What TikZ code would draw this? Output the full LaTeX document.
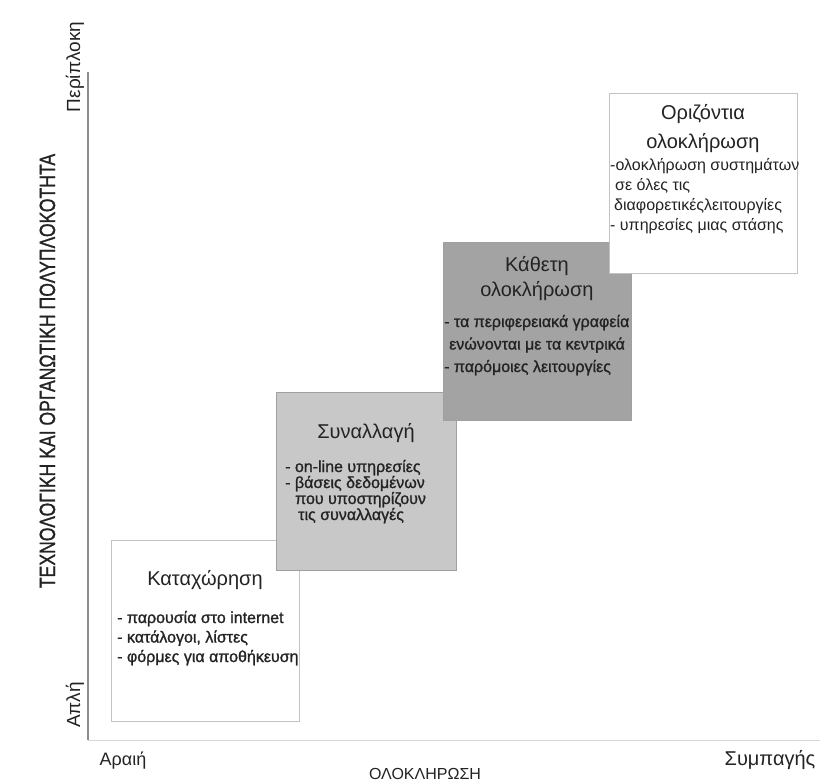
\documentclass[tikz,border=0pt]{standalone}
\usepackage{fontspec}
\setmainfont{Liberation Sans}
\newfontfamily\heavyfont{Liberation Sans}[FakeBold=1.2]
\usepackage{graphicx}
\usepackage{xcolor}
\definecolor{axisgray}{RGB}{140,140,140}
\definecolor{baselinegray}{RGB}{215,215,215}
\definecolor{boxedge}{RGB}{160,160,160}
\definecolor{lightedge}{RGB}{195,195,195}
\definecolor{transactfill}{RGB}{200,200,200}
\definecolor{verticalfill}{RGB}{163,163,163}
\definecolor{textdark}{RGB}{35,35,35}
\tikzset{
    stagebox/.style={
        draw=boxedge,
        rectangle,
        minimum width=188pt,
        minimum height=180pt,
        inner sep=0pt,
        line width=0.8pt
    },
    stagetitle/.style={
        anchor=base,
        inner sep=0pt,
        text=textdark,
        font=\fontsize{20}{24}\selectfont
    },
    stageitem/.style={
        anchor=base west,
        inner sep=0pt,
        text=textdark,
        font=\fontsize{16}{19}\selectfont
    },
    heavyitem/.style={
        stageitem,
        font=\heavyfont\fontsize{16}{19}\selectfont
    },
    axistext/.style={
        anchor=base,
        inner sep=0pt,
        text=textdark
    }
}

\begin{document}
\begin{tikzpicture}[x=1pt,y=-1pt]

\useasboundingbox (0,0) rectangle (824,783);

% ---------------------------------------------------------
% Axes
% ---------------------------------------------------------
\coordinate (origin) at (88,740);
\coordinate (ytop) at (88,72);
\coordinate (xend) at (820,740);
\draw[baselinegray, line width=1pt] (origin) -- (xend);
\draw[axisgray, line width=2pt] (ytop) -- (origin);

\node[axistext, rotate=90, font=\heavyfont\fontsize{22}{26}\selectfont] (complexity)
    at (55,371) {\scalebox{0.8}[1]{ΤΕΧΝΟΛΟΓΙΚΗ ΚΑΙ ΟΡΓΑΝΩΤΙΚΗ ΠΟΛΥΠΛΟΚΟΤΗΤΑ}};
\node[axistext, rotate=90, font=\fontsize{19}{22}\selectfont] (complex)
    at (80,67) {Περίπλοκη};
\node[axistext, rotate=90, font=\fontsize{19}{22}\selectfont] (simple)
    at (80,705) {Απλή};

\node[axistext, font=\fontsize{18}{22}\selectfont] (sparse) at (123,765) {Αραιή};
\node[axistext, font=\fontsize{20}{24}\selectfont] (dense) at (770,765) {Συμπαγής};
\node[axistext, font=\fontsize{16}{20}\selectfont] (integration) at (425,779) {ΟΛΟΚΛΗΡΩΣΗ};

% ---------------------------------------------------------
% Stage 1: registration
% ---------------------------------------------------------
\node[stagebox, draw=lightedge, fill=white, minimum height=181pt] (registration)
    at (205.5,630.5) {};
\node[stagetitle] (registration-title) at (205,585) {Καταχώρηση};
\foreach \dx/\txt [count=\i from 0] in
    {0/{- παρουσία στο internet},
     0/{- κατάλογοι, λίστες},
     0/{- φόρμες για αποθήκευση}}
{
    \node[heavyitem] (registration-item-\i) at (117+\dx,623+\i*19.5) {\txt};
}

% ---------------------------------------------------------
% Stage 2: transaction
% ---------------------------------------------------------
\node[stagebox, fill=transactfill, minimum width=180pt, minimum height=178pt] (transaction)
    at (366,481) {};
\node[stagetitle] (transaction-title) at (366,438) {Συναλλαγή};
\foreach \dx/\txt [count=\i from 0] in
    {0/{- on-line υπηρεσίες},
     0/{- βάσεις δεδομένων},
     10/{που υποστηρίζουν},
     13/{τις συναλλαγές}}
{
    \node[heavyitem] (transaction-item-\i) at (285+\dx,472+\i*16) {\txt};
}

% ---------------------------------------------------------
% Stage 3: vertical integration
% ---------------------------------------------------------
\node[stagebox, fill=verticalfill, minimum height=178pt] (vertical)
    at (537,331) {};
\node[stagetitle] (vertical-title-a) at (537,272) {Κάθετη};
\node[stagetitle] (vertical-title-b) at (537,297) {ολοκλήρωση};
\foreach \dx/\txt [count=\i from 0] in
    {0/{- τα περιφερειακά γραφεία},
     5/{ενώνονται με τα κεντρικά},
     0/{- παρόμοιες λειτουργίες}}
{
    \node[heavyitem] (vertical-item-\i) at (444+\dx,327+\i*22.5) {\txt};
}

% ---------------------------------------------------------
% Stage 4: horizontal integration
% ---------------------------------------------------------
\node[stagebox, draw=lightedge, fill=white] (horizontal)
    at (703,183) {};
\node[stagetitle] (horizontal-title-a) at (703,120) {Οριζόντια};
\node[stagetitle] (horizontal-title-b) at (703,149) {ολοκλήρωση};
\foreach \dx/\txt [count=\i from 0] in
    {0/{-ολοκλήρωση συστημάτων},
     5/{σε όλες τις},
     4/{διαφορετικέςλειτουργίες},
     0/{- υπηρεσίες μιας στάσης}}
{
    \node[stageitem] (horizontal-item-\i) at (610+\dx,171+\i*20) {\txt};
}

\end{tikzpicture}
\end{document}
